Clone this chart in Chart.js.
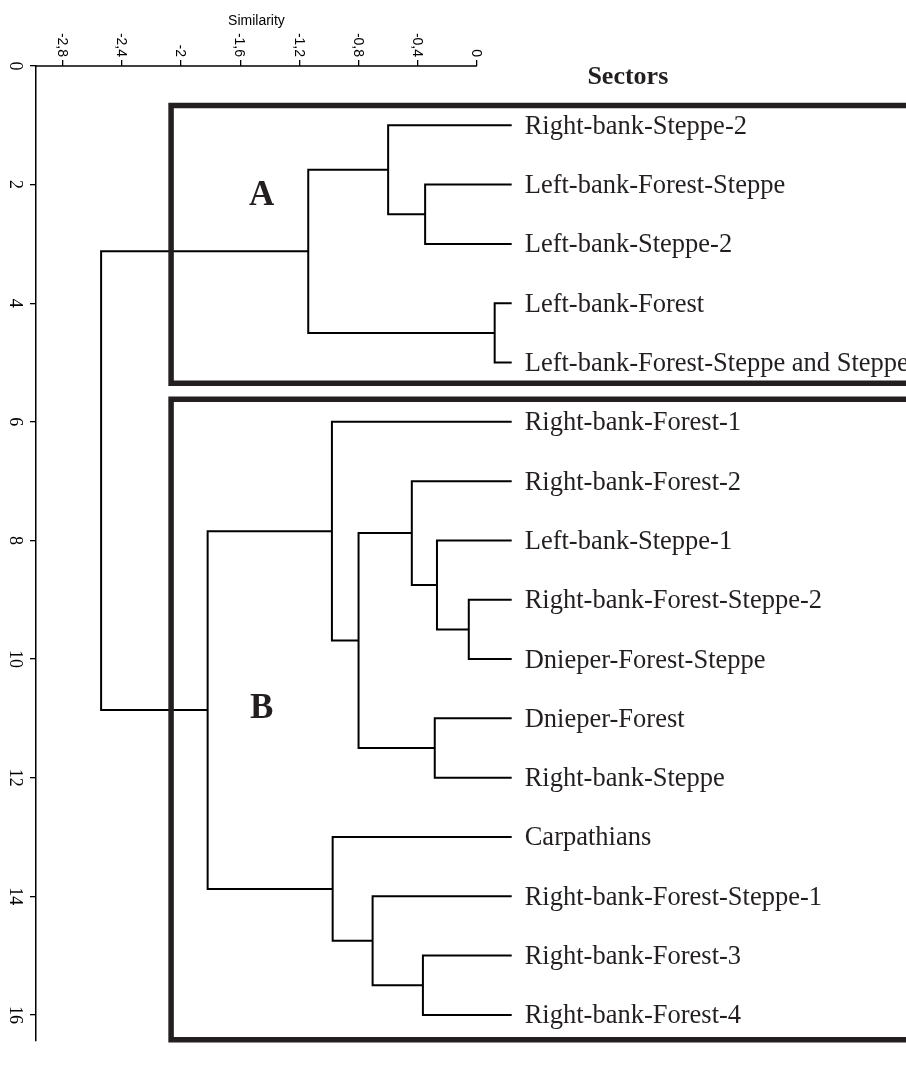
<!DOCTYPE html>
<html>
<head>
<meta charset="utf-8">
<title>Sectors dendrogram</title>
<script src="https://cdn.jsdelivr.net/npm/chart.js@4/dist/chart.umd.min.js"></script>
<style>
  html, body { margin: 0; padding: 0; background: #fff; }
  #wrap { width: 906px; height: 1068px; }
</style>
</head>
<body>
<div id="wrap"><canvas id="dendro"></canvas></div>
<script>
// leaves, top to bottom (row 1..16)
const sectors = [
  'Right-bank-Steppe-2',
  'Left-bank-Forest-Steppe',
  'Left-bank-Steppe-2',
  'Left-bank-Forest',
  'Left-bank-Forest-Steppe and Steppe',
  'Right-bank-Forest-1',
  'Right-bank-Forest-2',
  'Left-bank-Steppe-1',
  'Right-bank-Forest-Steppe-2',
  'Dnieper-Forest-Steppe',
  'Dnieper-Forest',
  'Right-bank-Steppe',
  'Carpathians',
  'Right-bank-Forest-Steppe-1',
  'Right-bank-Forest-3',
  'Right-bank-Forest-4'
];

// linkage: merge k joins node mergeA[k] and mergeB[k] at similarity mergeSim[k],
// new node gets id 16 + k
const mergeA   = [1, 3, 0, 18, 8, 7, 6, 10, 22, 5, 14, 13, 12, 25, 19];
const mergeB   = [2, 4, 16, 17, 9, 20, 21, 11, 23, 24, 15, 26, 27, 28, 29];
const mergeSim = [-0.35, 0.12, -0.60, -1.14, -0.055, -0.27, -0.44, -0.285, -0.80, -0.98, -0.365, -0.705, -0.975, -1.82, -2.54];
const leafSim  = 0.235;

const simTicks = [-2.8, -2.4, -2, -1.6, -1.2, -0.8, -0.4, 0];
const rowTicks = [0, 2, 4, 6, 8, 10, 12, 14, 16];

const groupNames = ['A', 'B'];

// ---- layout ----
const SERIF = '"Liberation Serif", "Times New Roman", serif';
const SANS = '"Liberation Sans", Arial, sans-serif';
const INK = '#231f20';
const boxes = [
  { left: -2.067, top: 0.666, bottom: 5.35 },
  { left: -2.067, top: 5.62, bottom: 16.42 }
];
const groupLabelPos = [{ x: -1.455, y: 2.19 }, { x: -1.455, y: 10.84 }];

// build node positions and the elbow links
const nodeX = [], nodeY = [];
sectors.forEach((s, i) => { nodeX[i] = leafSim; nodeY[i] = i + 1; });

const linkSets = mergeA.map((a, k) => {
  const b = mergeB[k], h = mergeSim[k], id = sectors.length + k;
  nodeX[id] = h;
  nodeY[id] = (nodeY[a] + nodeY[b]) / 2;
  return {
    data: [
      { x: nodeX[a], y: nodeY[a] },
      { x: h, y: nodeY[a] },
      { x: h, y: nodeY[b] },
      { x: nodeX[b], y: nodeY[b] }
    ],
    borderColor: '#000',
    borderWidth: 2,
    borderJoinStyle: 'miter',
    borderCapStyle: 'butt'
  };
});

const boxSets = boxes.map(bx => ({
  data: [
    { x: 3.3, y: bx.top },
    { x: bx.left, y: bx.top },
    { x: bx.left, y: bx.bottom },
    { x: 3.3, y: bx.bottom }
  ],
  borderColor: INK,
  borderWidth: 5.5,
  borderJoinStyle: 'miter',
  borderCapStyle: 'butt'
}));

const comma = v => String(v).replace('.', ',');

const textPlugin = {
  id: 'dendroText',
  afterDraw(chart) {
    const { ctx, scales: { x, y } } = chart;
    const top = chart.chartArea.top;
    ctx.save();

    // top axis line only across the similarity range
    ctx.strokeStyle = '#000';
    ctx.lineWidth = 1.5;
    ctx.beginPath();
    ctx.moveTo(x.getPixelForValue(x.min), top);
    ctx.lineTo(x.getPixelForValue(0), top);
    ctx.stroke();

    // similarity tick labels, turned a quarter clockwise
    ctx.fillStyle = '#000';
    ctx.font = '14px ' + SANS;
    ctx.textAlign = 'right';
    ctx.textBaseline = 'middle';
    x.ticks.forEach(t => {
      ctx.save();
      ctx.translate(x.getPixelForValue(t.value) - 1, top - 9);
      ctx.rotate(Math.PI / 2);
      ctx.fillText(comma(t.value), 0, 0);
      ctx.restore();
    });

    // axis title
    ctx.textAlign = 'center';
    ctx.fillText('Similarity', (x.getPixelForValue(x.min) + x.getPixelForValue(0)) / 2, 21);

    // row tick labels
    ctx.font = '18px ' + SERIF;
    y.ticks.forEach(t => {
      ctx.save();
      ctx.translate(15, y.getPixelForValue(t.value));
      ctx.rotate(Math.PI / 2);
      ctx.fillText(String(t.value), 0, 0);
      ctx.restore();
    });

    // leaf names
    ctx.fillStyle = INK;
    ctx.font = '26.5px ' + SERIF;
    ctx.textAlign = 'left';
    const lx = x.getPixelForValue(leafSim) + 13;
    sectors.forEach((s, i) => ctx.fillText(s, lx, y.getPixelForValue(i + 1) + 1.5));

    // header
    ctx.font = 'bold 26px ' + SERIF;
    ctx.textAlign = 'center';
    ctx.fillText('Sectors', x.getPixelForValue(1.02), y.getPixelForValue(0.185));

    // group letters
    ctx.font = 'bold 35px ' + SERIF;
    groupNames.forEach((g, i) => {
      ctx.fillText(g, x.getPixelForValue(groupLabelPos[i].x), y.getPixelForValue(groupLabelPos[i].y));
    });

    ctx.restore();
  }
};

new Chart(document.getElementById('dendro'), {
  type: 'scatter',
  data: { datasets: [...boxSets, ...linkSets] },
  options: {
    responsive: true,
    maintainAspectRatio: false,
    animation: false,
    layout: { padding: { top: 0, left: 0, right: 0, bottom: 27 } },
    elements: {
      point: { radius: 0, hoverRadius: 0 },
      line: { tension: 0, fill: false }
    },
    datasets: { scatter: { showLine: true, clip: false } },
    plugins: {
      legend: { display: false },
      tooltip: { enabled: false },
      title: { display: false }
    },
    events: [],
    scales: {
      x: {
        type: 'linear',
        position: 'top',
        min: -2.98,
        max: 2.9,
        afterBuildTicks: s => { s.ticks = simTicks.map(v => ({ value: v })); },
        afterFit: s => { s.height = 66; },
        ticks: { display: false },
        border: { display: false },
        grid: { drawOnChartArea: false, drawTicks: true, tickLength: 6, color: '#000', lineWidth: 1.3 }
      },
      y: {
        type: 'linear',
        position: 'left',
        reverse: true,
        min: 0,
        max: 16.44,
        afterBuildTicks: s => { s.ticks = rowTicks.map(v => ({ value: v })); },
        afterFit: s => { s.width = 36; },
        ticks: { display: false },
        border: { display: true, color: '#000', width: 1.5 },
        grid: { drawOnChartArea: false, drawTicks: true, tickLength: 6, color: '#000', lineWidth: 1.3 }
      }
    }
  },
  plugins: [textPlugin]
});
</script>
</body>
</html>
